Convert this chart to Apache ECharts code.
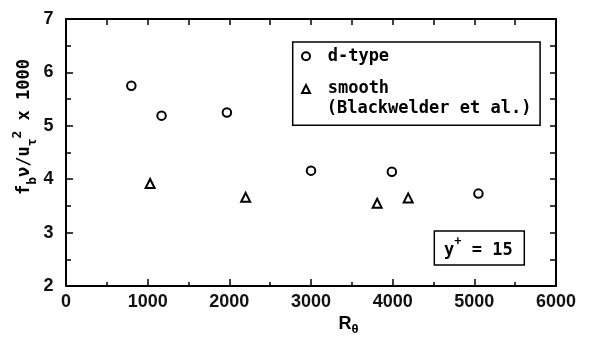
<!DOCTYPE html>
<html>
<head>
<meta charset="utf-8">
<script src="https://cdn.jsdelivr.net/npm/echarts@6/dist/echarts.min.js"></script>
<style>html,body{margin:0;padding:0;background:#fff}#c{width:590px;height:341px}</style>
</head>
<body>
<div id="c"></div>
<script>
// Data
var dtypeX = [800, 1170, 1970, 3000, 3990, 5050];
var dtypeY = [5.75, 5.19, 5.25, 4.16, 4.14, 3.73];
var smoothX = [1030, 2200, 3810, 4190];
var smoothY = [3.92, 3.66, 3.55, 3.65];
var seriesNames = ['d-type', 'smooth'];
var legendSecondLine = '(Blackwelder et al.)';
var xTicks = [0, 1000, 2000, 3000, 4000, 5000, 6000];
var yTicks = [2, 3, 4, 5, 6, 7];

function pairs(xs, ys) { return xs.map(function (x, i) { return [x, ys[i]]; }); }

var MONO = 'DejaVu Sans Mono';
var SANS = 'Liberation Sans';
var black = '#000';
var W = 'bold';

var chart = echarts.init(document.getElementById('c'), null, {renderer: 'canvas'});
chart.setOption({
  animation: false,
  backgroundColor: '#fff',
  grid: {left: 66, right: 34, top: 19, bottom: 55, outerBoundsMode: 'none', containLabel: false},
  legend: {
    orient: 'vertical',
    left: 292.7, top: 42,
    padding: [4.3, 151, 26.3, 8.3],
    itemGap: 12.7,
    itemWidth: 8, itemHeight: 8,
    borderColor: black, borderWidth: 1.5,
    selectedMode: false,
    textStyle: {fontFamily: MONO, fontSize: 17, fontWeight: W, color: black, lineHeight: 20, padding: [0, 0, 0, 12.7]},
    data: [{name: seriesNames[0], icon: 'emptyCircle'}, {name: seriesNames[1], icon: 'emptyTriangle'}]
  },
  xAxis: [{
    type: 'value', position: 'bottom', min: xTicks[0], max: xTicks[xTicks.length - 1], interval: 1000,
    name: '{m|R}{s|θ}', nameLocation: 'middle', nameGap: 26, nameMoveOverlap: false,
    nameTextStyle: {padding: [0, 0, 0, 75], rich: {
      m: {fontFamily: SANS, fontSize: 18, fontWeight: W, color: black, lineHeight: 24, verticalAlign: 'middle'},
      s: {fontFamily: SANS, fontSize: 13, fontWeight: W, color: black, lineHeight: 8, verticalAlign: 'bottom'}
    }},
    axisLine: {show: true, onZero: false, lineStyle: {color: black, width: 2}},
    axisTick: {show: true, inside: true, length: 7, lineStyle: {color: black, width: 1.5}},
    minorTick: {show: true, splitNumber: 2, length: 4, lineStyle: {color: black, width: 1.5}},
    axisLabel: {show: true, margin: 7, fontFamily: SANS, fontSize: 18, fontWeight: W, color: '#111',
      formatter: function (v) { return String(v); }},
    splitLine: {show: false}
  }, {
    type: 'value', position: 'top', min: 0, max: 6000, interval: 500,
    axisLine: {show: true, onZero: false, lineStyle: {color: black, width: 2}},
    axisTick: {show: true, inside: true, length: 6, lineStyle: {color: black, width: 1.5}},
    axisLabel: {show: false}, splitLine: {show: false}
  }],
  yAxis: [{
    type: 'value', position: 'left', min: yTicks[0], max: yTicks[yTicks.length - 1], interval: 1,
    name: '{m|f}{s|b}{m|ν/u}{s|τ}{p|2}{m| x 1000}', nameLocation: 'middle', nameGap: 27, nameRotate: 90, nameMoveOverlap: false,
    nameTextStyle: {padding: [0, 0, 0, 51], rich: {
      m: {fontFamily: MONO, fontSize: 17, fontWeight: W, color: black, lineHeight: 28, verticalAlign: 'middle'},
      s: {fontFamily: MONO, fontSize: 13, fontWeight: W, color: black, lineHeight: 6, verticalAlign: 'bottom'},
      p: {fontFamily: MONO, fontSize: 13, fontWeight: W, color: black, lineHeight: 15, verticalAlign: 'top'}
    }},
    axisLine: {show: true, onZero: false, lineStyle: {color: black, width: 2}},
    axisTick: {show: true, inside: true, length: 7, lineStyle: {color: black, width: 1.5}},
    minorTick: {show: true, splitNumber: 2, length: 5, lineStyle: {color: black, width: 1.5}},
    axisLabel: {show: true, margin: 12.5, fontFamily: SANS, fontSize: 18, fontWeight: W, color: '#111'},
    splitLine: {show: false}
  }, {
    type: 'value', position: 'right', min: 2, max: 7, interval: 0.5,
    axisLine: {show: true, onZero: false, lineStyle: {color: black, width: 2}},
    axisTick: {show: true, inside: true, length: 6, lineStyle: {color: black, width: 1.5}},
    axisLabel: {show: false}, splitLine: {show: false}
  }],
  series: [{
    name: seriesNames[0], type: 'scatter', xAxisIndex: 0, yAxisIndex: 0,
    symbol: 'emptyCircle', symbolSize: 8.5,
    itemStyle: {color: black, borderColor: black, borderWidth: 2.4, opacity: 1},
    data: pairs(dtypeX, dtypeY)
  }, {
    name: seriesNames[1], type: 'scatter', xAxisIndex: 0, yAxisIndex: 0,
    symbol: 'emptyTriangle', symbolSize: 9,
    itemStyle: {color: black, borderColor: black, borderWidth: 2.4, opacity: 1},
    data: pairs(smoothX, smoothY)
  }],
  graphic: [{
    type: 'text', left: 326.7, top: 100,
    style: {text: legendSecondLine, font: 'bold 17px "' + MONO + '"', fill: black}
  }, {
    type: 'rect', shape: {x: 434.3, y: 231, width: 90, height: 34},
    style: {fill: 'none', stroke: black, lineWidth: 1.5}
  }, {
    type: 'text', x: 444, y: 251,
    style: {
      text: '{m|y}{p|+}{m| = 15}', verticalAlign: 'middle',
      rich: {
        m: {fontFamily: MONO, fontSize: 17, fontWeight: W, fill: black, lineHeight: 30, verticalAlign: 'middle'},
        p: {fontFamily: MONO, fontSize: 12, fontWeight: W, fill: black, lineHeight: 8, verticalAlign: 'top'}
      }
    }
  }]
});
</script>
</body>
</html>
